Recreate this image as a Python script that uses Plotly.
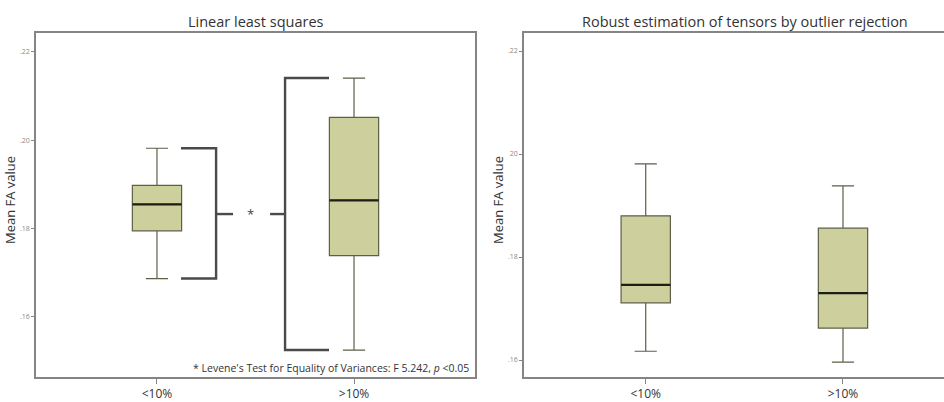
import plotly.graph_objects as go

# ---- data ----
categories = ["<10%", ">10%"]
cat_pos = [0, 1]

# Linear least squares
lls_lower = [0.1687, 0.1525]
lls_q1 = [0.1795, 0.1739]
lls_median = [0.1855, 0.1864]
lls_q3 = [0.1898, 0.2052]
lls_upper = [0.1982, 0.2141]

# Robust estimation (RESTORE)
rob_lower = [0.1617, 0.1596]
rob_q1 = [0.1711, 0.1662]
rob_median = [0.1746, 0.1730]
rob_q3 = [0.1880, 0.1856]
rob_upper = [0.1981, 0.1938]

tick_vals = [0.16, 0.18, 0.20, 0.22]
left_tick_text = [".16", ".18", ".20", ".22"]
right_tick_text = [".16", ".18", "20", ".22"]

# bracket (Levene's test) levels in data units
bracket_mid = 0.1833

W, H = 944, 402
FILL = "#cdd09c"
EDGE = "#5e5f48"
AXIS = "#858585"
FONT = "Open Sans"
BOX_W = 0.25

fig = go.Figure()

def add_boxes(xa, ya, lower, q1, med, q3, upper):
    fig.add_trace(go.Box(
        x=cat_pos, lowerfence=lower, q1=q1, median=med, q3=q3, upperfence=upper,
        xaxis=xa, yaxis=ya, width=BOX_W, whiskerwidth=0.45,
        fillcolor=FILL, line=dict(color=EDGE, width=1.2),
        boxpoints=False, hoverinfo="skip", showlegend=False))
    for p, m in zip(cat_pos, med):
        fig.add_trace(go.Scatter(
            x=[p - BOX_W / 2, p + BOX_W / 2], y=[m, m], mode="lines",
            line=dict(color="#1e1e14", width=2.2), xaxis=xa, yaxis=ya,
            hoverinfo="skip", showlegend=False))

add_boxes("x", "y", lls_lower, lls_q1, lls_median, lls_q3, lls_upper)
add_boxes("x2", "y2", rob_lower, rob_q1, rob_median, rob_q3, rob_upper)

# Levene brackets (left panel)
BR = dict(color="#4a4a4a", width=2.4)
left_bx = [0.122, 0.300]
right_bx = [0.650, 0.873]
fig.add_trace(go.Scatter(
    x=[left_bx[0], left_bx[1], left_bx[1], left_bx[0]],
    y=[lls_upper[0], lls_upper[0], lls_lower[0], lls_lower[0]],
    mode="lines", line=BR, xaxis="x", yaxis="y", hoverinfo="skip", showlegend=False))
fig.add_trace(go.Scatter(
    x=[left_bx[1], 0.386], y=[bracket_mid, bracket_mid],
    mode="lines", line=BR, xaxis="x", yaxis="y", hoverinfo="skip", showlegend=False))
fig.add_trace(go.Scatter(
    x=[right_bx[1], right_bx[0], right_bx[0], right_bx[1]],
    y=[lls_upper[1], lls_upper[1], lls_lower[1], lls_lower[1]],
    mode="lines", line=BR, xaxis="x", yaxis="y", hoverinfo="skip", showlegend=False))
fig.add_trace(go.Scatter(
    x=[0.574, right_bx[0]], y=[bracket_mid, bracket_mid],
    mode="lines", line=BR, xaxis="x", yaxis="y", hoverinfo="skip", showlegend=False))

def px_x(p):
    return p / W

def px_y(p):
    return (H - p) / H

common_x = dict(tickmode="array", tickvals=cat_pos, ticktext=categories,
                showline=True, linecolor=AXIS, linewidth=1.5, mirror=True,
                ticks="outside", ticklen=5, tickcolor=AXIS,
                showgrid=False, zeroline=False,
                tickfont=dict(family=FONT, size=12, color="#333333"))
common_y = dict(tickmode="array", tickvals=tick_vals,
                showline=True, linecolor=AXIS, linewidth=1.5,
                ticks="outside", ticklen=3, tickcolor=AXIS,
                showgrid=False, zeroline=False,
                tickfont=dict(family=FONT, size=7, color="#8a8a8a"))

fig.update_layout(
    width=W, height=H, margin=dict(l=0, r=0, t=0, b=0),
    paper_bgcolor="white", plot_bgcolor="white",
    xaxis=dict(domain=[px_x(36), px_x(475)], range=[-0.614, 1.614], anchor="y", **common_x),
    yaxis=dict(domain=[px_y(377), px_y(33)], range=[0.1464, 0.2243], anchor="x",
               ticktext=left_tick_text, mirror=True, **common_y),
    xaxis2=dict(domain=[px_x(524), 1.0], range=[-0.617, 1.512], anchor="y2", **common_x),
    yaxis2=dict(domain=[px_y(377), px_y(33)], range=[0.1567, 0.2235], anchor="x2",
                ticktext=right_tick_text, mirror=False, **common_y),
    annotations=[
        dict(text="Linear least squares", x=px_x(256), y=px_y(22), xref="paper", yref="paper",
             xanchor="center", yanchor="middle",
             showarrow=False, font=dict(family=FONT, size=14.5, color="#333333")),
        dict(text="Robust estimation of tensors by outlier rejection", x=px_x(745), y=px_y(22),
             xref="paper", yref="paper", xanchor="center", yanchor="middle", showarrow=False,
             font=dict(family=FONT, size=14.5, color="#333333")),
        dict(text="Mean FA value", x=px_x(10), y=px_y(200), xref="paper", yref="paper",
             xanchor="center", yanchor="middle",
             textangle=-90, showarrow=False, font=dict(family=FONT, size=13, color="#333333")),
        dict(text="Mean FA value", x=px_x(498), y=px_y(200), xref="paper", yref="paper",
             xanchor="center", yanchor="middle",
             textangle=-90, showarrow=False, font=dict(family=FONT, size=13, color="#333333")),
        dict(text="*", x=0.477, y=bracket_mid, xref="x", yref="y", showarrow=False,
             xanchor="center", yanchor="middle",
             font=dict(family=FONT, size=13, color="#444444")),
        dict(text="* Levene's Test for Equality of Variances: F 5.242, <i>p</i> <0.05",
             x=px_x(471), y=px_y(368), xref="paper", yref="paper", xanchor="right",
             yanchor="middle",
             showarrow=False, font=dict(family=FONT, size=10.5, color="#333333")),
    ],
)

fig.write_html("out.html")
